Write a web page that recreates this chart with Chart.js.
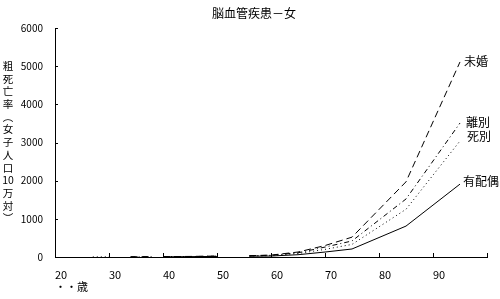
<!DOCTYPE html>
<html>
<head>
<meta charset="utf-8">
<script src="https://cdn.jsdelivr.net/npm/chart.js@4/dist/chart.umd.min.js"></script>
<style>
html,body{margin:0;padding:0;background:#fff;}
canvas{display:block;}
</style>
</head>
<body>
<canvas id="c" width="500" height="299"></canvas>
<script>
// ---- data ----
const chartTitle = "脳血管疾患－女";
const yTitleChars = ["粗","死","亡","率","︵","女","子","人","口","10","万","対","︶"];
const xUnit = "・・歳";
const ages = [27, 30, 31, 34, 38, 39, 40, 45, 50, 53, 56, 60, 65, 70, 75, 85, 95];
const seriesNames = ["未婚", "離別", "死別", "有配偶"];
const miKon   = [null, null, null, 6, 10, null, 10, 15, 25, null, 35, 50, 130, 300, 520, 1970, 5110];
const riBetsu = [null, null, null, 5, 8, null, 8, 12, 20, null, 30, 45, 110, 260, 420, 1520, 3510];
const shiBetsu= [3, 5, null, null, null, null, 5, 10, 15, null, 25, 35, 90, 200, 330, 1250, 3040];
const yuHaigu = [null, null, null, null, null, null, 5, 10, 15, null, 20, 25, 60, 130, 210, 810, 1910];
const yTicks = [0, 1000, 2000, 3000, 4000, 5000, 6000];
const xTicks = [20, 30, 40, 50, 60, 70, 80, 90];

const FONT = "'Noto Sans CJK JP', 'DejaVu Sans', sans-serif";
const toXY = vals => ages.map((a, i) => ({x: a, y: vals[i]}));

const dashes = [[7, 4], [5, 3, 1, 3], [1, 3], []];
const labelOffsets = [[4, -1], [6, -1], [7, -5], [3, -3]];
const allVals = [miKon, riBetsu, shiBetsu, yuHaigu];

const decor = {
  id: 'decor',
  afterDraw(chart) {
    const ctx = chart.ctx;
    const xs = chart.scales.x, ys = chart.scales.y;
    const ca = chart.chartArea;
    ctx.save();
    ctx.strokeStyle = '#000';
    ctx.lineWidth = 1;
    // inward tick marks
    ctx.beginPath();
    for (let v = 20; v <= 100; v += 10) {
      const px = Math.round(xs.getPixelForValue(v)) + 0.5;
      ctx.moveTo(px, ca.bottom); ctx.lineTo(px, ca.bottom - 4);
    }
    yTicks.forEach(v => {
      const py = Math.round(ys.getPixelForValue(v)) + 0.5;
      ctx.moveTo(ca.left, py); ctx.lineTo(ca.left + 3, py);
    });
    ctx.stroke();
    ctx.fillStyle = '#000';
    // title
    ctx.font = '12px ' + FONT;
    ctx.textAlign = 'center';
    ctx.textBaseline = 'middle';
    ctx.fillText(chartTitle, 254, 13);
    // y title stacked
    ctx.font = '10.5px ' + FONT;
    yTitleChars.forEach((ch, i) => {
      ctx.fillText(ch, 8, 66 + i * 12.7);
    });
    // x unit
    ctx.textAlign = 'left';
    ctx.font = '11px ' + FONT;
    ctx.fillText(xUnit, 55, 287);
    // series labels at line ends
    ctx.font = '12px ' + FONT;
    seriesNames.forEach((name, i) => {
      const vals = allVals[i];
      const lastY = vals[vals.length - 1];
      const px = xs.getPixelForValue(ages[ages.length - 1]);
      const py = ys.getPixelForValue(lastY);
      ctx.fillText(name, px + labelOffsets[i][0], py + labelOffsets[i][1]);
    });
    ctx.restore();
  }
};

new Chart(document.getElementById('c'), {
  type: 'line',
  data: {
    datasets: seriesNames.map((n, i) => ({
      label: n,
      data: toXY(allVals[i]),
      borderColor: '#000',
      borderWidth: 1,
      borderDash: dashes[i],
      pointRadius: 0,
      tension: 0,
      spanGaps: false,
      fill: false
    }))
  },
  options: {
    responsive: false,
    animation: false,
    devicePixelRatio: 1,
    layout: {padding: {top: 28, right: 13, bottom: 0, left: 0}},
    plugins: {legend: {display: false}, title: {display: false}, tooltip: {enabled: false}},
    scales: {
      x: {
        type: 'linear',
        min: 20, max: 100,
        afterBuildTicks: s => { s.ticks = [20,30,40,50,60,70,80,90,100].map(v => ({value: v})); },
        grid: {display: false, drawTicks: false},
        border: {display: true, color: '#000', width: 1},
        ticks: {
          align: 'start',
          padding: 11,
          maxRotation: 0,
          autoSkip: false,
          color: '#000',
          font: {family: FONT, size: 11},
          callback: v => xTicks.includes(v) ? String(v) : ''
        },
        afterFit: s => { s.height = 42; }
      },
      y: {
        min: 0, max: 6000,
        afterBuildTicks: s => { s.ticks = yTicks.map(v => ({value: v})); },
        grid: {display: false, drawTicks: false},
        border: {display: true, color: '#000', width: 1},
        ticks: {
          padding: 12,
          color: '#000',
          font: {family: FONT, size: 10},
          callback: v => String(v)
        },
        afterFit: s => { s.width = 55; }
      }
    }
  },
  plugins: [decor]
});
</script>
</body>
</html>
